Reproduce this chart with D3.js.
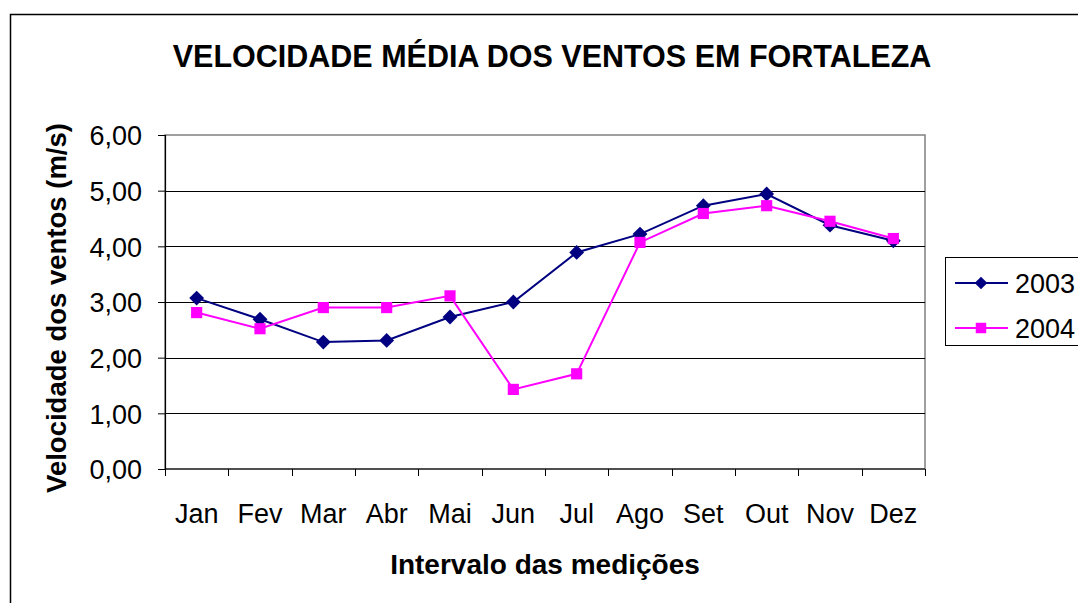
<!DOCTYPE html>
<html>
<head>
<meta charset="utf-8">
<script src="https://cdn.jsdelivr.net/npm/d3@7"></script>
<style>
  body { margin: 0; background: #fff; }
  text { font-family: "Liberation Sans", Arial, sans-serif; }
</style>
</head>
<body>
<svg id="chart" width="1078" height="603"></svg>
<script>
const months = ["Jan", "Fev", "Mar", "Abr", "Mai", "Jun", "Jul", "Ago", "Set", "Out", "Nov", "Dez"];
const vel2003 = [3.07, 2.69, 2.28, 2.31, 2.73, 3.00, 3.89, 4.22, 4.73, 4.94, 4.38, 4.10];
const vel2004 = [2.81, 2.52, 2.90, 2.90, 3.11, 1.43, 1.71, 4.07, 4.59, 4.73, 4.45, 4.14];
const yTicks = [0, 1, 2, 3, 4, 5, 6];

const series = [
	{ name: "2003", values: vel2003, color: "#000080", shape: "diamond" },
	{ name: "2004", values: vel2004, color: "#FF00FF", shape: "square" }
];

const svg = d3.select("#chart");
const plot = { left: 165, top: 135, right: 925, bottom: 469 };

// marker drawing: square, or square turned 45 degrees for diamond
function marker(g, shape, color, cx, cy, size) {
	g.append("path")
		.attr("transform", `translate(${cx},${cy})` + (shape === "diamond" ? " rotate(45)" : ""))
		.attr("d", d3.symbol().type(d3.symbolSquare).size(size))
		.attr("fill", color);
}

// outer chart frame
svg.append("rect")
	.attr("x", 10.5).attr("y", 14.5)
	.attr("width", 1100).attr("height", 620)
	.attr("fill", "none").attr("stroke", "#000").attr("stroke-width", 1.5);

const x = d3.scaleBand().domain(months).range([plot.left, plot.right]);
const y = d3.scaleLinear().domain([0, 6]).range([plot.bottom, plot.top]);

// plot area border (grey)
svg.append("rect")
	.attr("x", plot.left).attr("y", plot.top)
	.attr("width", plot.right - plot.left).attr("height", plot.bottom - plot.top)
	.attr("fill", "none").attr("stroke", "#808080").attr("stroke-width", 1.5);

// gridlines
svg.append("g").selectAll("line")
	.data(yTicks.slice(1, -1))
	.enter().append("line")
	.attr("x1", plot.left).attr("x2", plot.right)
	.attr("y1", d => Math.round(y(d)) + 0.5).attr("y2", d => Math.round(y(d)) + 0.5)
	.attr("stroke", "#000").attr("stroke-width", 1);

// y axis
const yAxis = svg.append("g")
	.attr("transform", `translate(${plot.left},0)`)
	.call(d3.axisLeft(y).tickValues(yTicks).tickSize(7).tickPadding(16)
		.tickFormat(d => d3.format(".2f")(d).replace(".", ",")));
yAxis.select(".domain").attr("stroke", "#000").attr("stroke-width", 1.2);
yAxis.selectAll(".tick line").attr("stroke", "#000");
yAxis.selectAll("text")
	.attr("font-size", 27).attr("fill", "#000").attr("dy", "0.36em")
	.style("font-family", "'Liberation Sans', Arial, sans-serif");

// x axis: ticks between categories
const xAxisG = svg.append("g").attr("transform", `translate(0,${plot.bottom})`);
xAxisG.append("line")
	.attr("x1", plot.left).attr("x2", plot.right)
	.attr("y1", 0).attr("y2", 0)
	.attr("stroke", "#000").attr("stroke-width", 1.2);
const bounds = months.map(m => x(m)).concat([plot.right]);
xAxisG.selectAll(".xtick")
	.data(bounds)
	.enter().append("line")
	.attr("class", "xtick")
	.attr("x1", d => Math.round(d) + 0.5).attr("x2", d => Math.round(d) + 0.5)
	.attr("y1", 0).attr("y2", 7)
	.attr("stroke", "#000");
xAxisG.selectAll(".xlabel")
	.data(months)
	.enter().append("text")
	.attr("class", "xlabel")
	.attr("x", d => x(d) + x.bandwidth() / 2)
	.attr("y", 54)
	.attr("text-anchor", "middle")
	.attr("font-size", 27)
	.text(d => d);

// lines and markers
const line = d3.line()
	.x((d, i) => x(months[i]) + x.bandwidth() / 2)
	.y(d => y(d));

series.forEach(s => {
	svg.append("path")
		.datum(s.values)
		.attr("d", line)
		.attr("fill", "none")
		.attr("stroke", s.color)
		.attr("stroke-width", 2);
	const mg = svg.append("g");
	s.values.forEach((v, i) => {
		marker(mg, s.shape, s.color, x(months[i]) + x.bandwidth() / 2, y(v), s.shape === "square" ? 125 : 110);
	});
});

// titles
svg.append("text")
	.attr("x", 552).attr("y", 67)
	.attr("text-anchor", "middle")
	.attr("font-size", 30.5).attr("font-weight", "bold")
	.text("VELOCIDADE MÉDIA DOS VENTOS EM FORTALEZA");

svg.append("text")
	.attr("x", 545).attr("y", 574)
	.attr("text-anchor", "middle")
	.attr("font-size", 28).attr("font-weight", "bold")
	.text("Intervalo das medições");

svg.append("text")
	.attr("transform", "translate(66,308) rotate(-90)")
	.attr("text-anchor", "middle")
	.attr("font-size", 27.5).attr("font-weight", "bold")
	.text("Velocidade dos ventos (m/s)");

// legend
const legend = svg.append("g");
legend.append("rect")
	.attr("x", 945.5).attr("y", 257.5)
	.attr("width", 200).attr("height", 88)
	.attr("fill", "#fff").attr("stroke", "#000").attr("stroke-width", 1);
series.forEach((s, i) => {
	const ly = 283 + i * 45;
	legend.append("line")
		.attr("x1", 955).attr("x2", 1008)
		.attr("y1", ly).attr("y2", ly)
		.attr("stroke", s.color).attr("stroke-width", 2);
	marker(legend, s.shape, s.color, 981, ly, s.shape === "square" ? 110 : 80);
	legend.append("text")
		.attr("x", 1015).attr("y", ly + 9.5)
		.attr("font-size", 27)
		.text(s.name);
});
</script>
</body>
</html>
